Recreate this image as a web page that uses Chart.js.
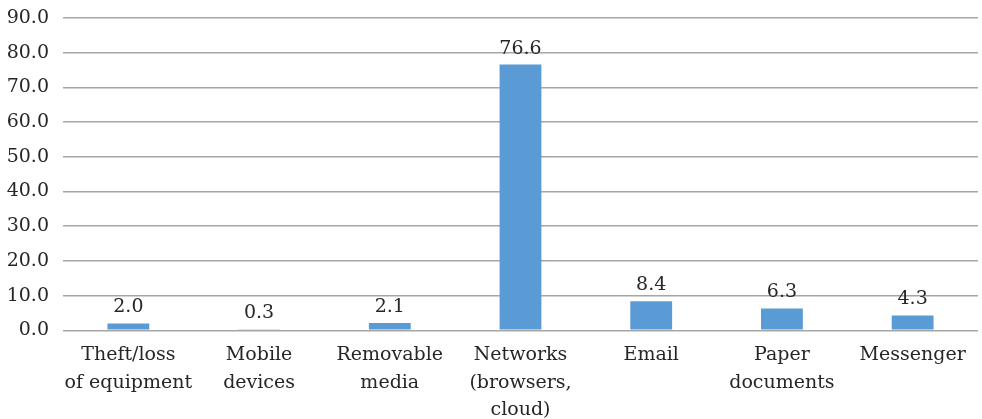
<!DOCTYPE html>
<html><head><meta charset="utf-8">
<script src="https://cdn.jsdelivr.net/npm/chart.js@4"></script>
<style>html,body{margin:0;padding:0;background:#fff}#wrap{width:982px;height:419px}</style>
</head><body><div id="wrap"><canvas id="c"></canvas></div>
<script>
const categories = [["Theft/loss","of equipment"],["Mobile","devices"],["Removable","media"],["Networks","(browsers,","cloud)"],["Email"],["Paper","documents"],["Messenger"]];
const values = [2.0, 0.3, 2.1, 76.6, 8.4, 6.3, 4.3];
const yTicks = [0,10,20,30,40,50,60,70,80,90];
const FONT = "'DejaVu Serif', serif";

const labelPlugin = {
  id: 'vals',
  afterDatasetsDraw(chart){
    const ctx = chart.ctx;
    const meta = chart.getDatasetMeta(0);
    ctx.save();
    ctx.font = "19px " + FONT;
    ctx.fillStyle = '#262626';
    ctx.textAlign = 'center';
    ctx.textBaseline = 'alphabetic';
    meta.data.forEach((bar,i)=>{
      ctx.fillText(values[i].toFixed(1), bar.x, bar.y - 11);
    });
    ctx.restore();
  }
};

new Chart(document.getElementById('c'), {
  type: 'bar',
  data: { labels: categories, datasets: [{ data: values, backgroundColor: '#5B9BD5', categoryPercentage: 1, barPercentage: 0.32 }] },
  options: {
    responsive: true, maintainAspectRatio: false, animation: false,
    layout: { padding: { top: 18, right: 4, left: 0, bottom: -16 } },
    plugins: { legend: { display: false }, tooltip: { enabled: false } },
    scales: {
      y: {
        min: 0, max: 90,
        afterBuildTicks(s){ s.ticks = yTicks.map(v=>({value:v})); },
        afterFit(s){ s.width = 63; s.paddingTop = 0; s.paddingBottom = 0; },
        grid: { color: '#A6A6A6', lineWidth: 1.5, drawTicks: false },
        border: { display: false },
        ticks: { padding: 14, color: '#262626', font: { family: FONT, size: 19 }, callback: v => Number(v).toFixed(1) }
      },
      x: {
        grid: { display: false, drawTicks: false },
        border: { display: false },
        ticks: { padding: 11, color: '#262626', font: { family: FONT, size: 19, lineHeight: 1.45 }, maxRotation: 0, autoSkip: false }
      }
    }
  },
  plugins: [labelPlugin]
});
</script></body></html>
